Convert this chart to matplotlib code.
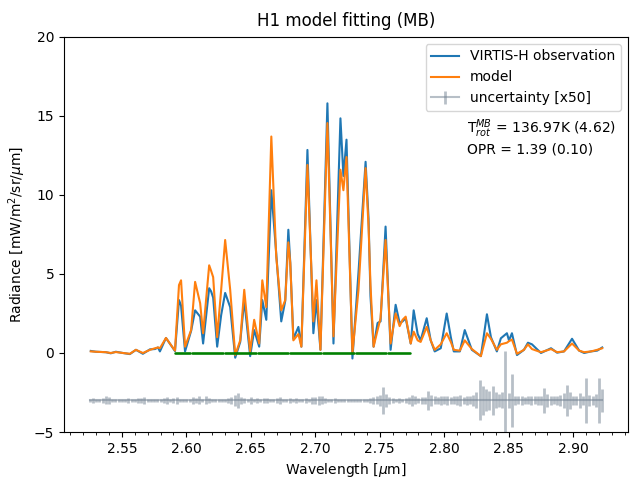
import numpy as np
import matplotlib
matplotlib.use('Agg')
import matplotlib.pyplot as plt
from matplotlib.ticker import MultipleLocator

# wavelength [um] and radiance
wl = [2.5259, 2.5298, 2.5376, 2.5414, 2.5453, 2.5508, 2.5562, 2.5609, 2.5663, 2.5718,
      2.5757, 2.5780, 2.5795, 2.5842, 2.5912, 2.5943, 2.5959, 2.5990, 2.6037, 2.6068,
      2.6107, 2.6130, 2.6177, 2.6192, 2.6208, 2.6239, 2.6270, 2.6301, 2.6340, 2.6379,
      2.6418, 2.6449, 2.6495, 2.6526, 2.6565, 2.6589, 2.6620, 2.6659, 2.6697, 2.6736,
      2.6767, 2.6791, 2.6806, 2.6830, 2.6869, 2.6892, 2.6939, 2.6985, 2.7009, 2.7040,
      2.7094, 2.7141, 2.7195, 2.7218, 2.7242, 2.7288, 2.7335, 2.7390, 2.7413, 2.7428,
      2.7452, 2.7483, 2.7506, 2.7545, 2.7584, 2.7623, 2.7654, 2.7677, 2.7701, 2.7740,
      2.7763, 2.7794, 2.7817, 2.7864, 2.7895, 2.7926, 2.7973, 2.8019, 2.8051, 2.8074,
      2.8121, 2.8159, 2.8214, 2.8284, 2.8331, 2.8362, 2.8408, 2.8439, 2.8486, 2.8502,
      2.8525, 2.8564, 2.8618, 2.8649, 2.8680, 2.8750, 2.8828, 2.8875, 2.8929, 2.8991,
      2.9046, 2.9085, 2.9139, 2.9186, 2.9225]

obs = [0.13, 0.08, 0.05, -0.02, 0.08, 0.0, -0.07, 0.2, -0.05, 0.23,
       0.25, 0.35, 0.1, 0.95, 0.12, 3.35, 3.0, 0.1, 1.4, 2.7,
       2.3, 0.6, 4.1, 3.9, 3.5, 0.4, 2.4, 3.8, 2.9, -0.3,
       0.7, 3.35, -0.2, 1.45, 0.4, 3.35, 2.1, 10.3, 6.3, 2.0,
       3.3, 7.8, 5.7, 0.9, 1.65, 0.4, 12.85, 1.25, 3.35, 0.2,
       15.8, 0.6, 14.85, 11.2, 13.5, -0.35, 5.1, 12.1, 8.5, 3.6,
       0.4, 1.9, 2.0, 8.0, 0.2, 3.05, 1.9, 2.0, 2.2, 0.6,
       2.7, 1.2, 0.8, 2.2, 0.8, 0.1, 0.3, 2.5, 1.0, 0.1,
       0.1, 1.45, 0.2, -0.2, 2.45, 1.0, 0.1, 0.93, 1.25, 0.8,
       1.25, -0.13, 0.2, 0.65, 0.55, 0.0, 0.3, 0.02, 0.1, 0.9,
       0.15, 0.0, 0.1, 0.15, 0.35]

model = [0.10, 0.08, 0.05, 0.0, 0.06, 0.0, -0.05, 0.2, 0.0, 0.2,
         0.3, 0.35, 0.3, 0.95, 0.15, 4.3, 4.6, 0.4, 1.45, 4.5,
         3.15, 1.25, 5.55, 5.2, 4.8, 1.0, 4.0, 7.15, 4.0, -0.13,
         0.8, 4.0, 0.1, 2.1, 0.6, 4.6, 2.9, 13.7, 6.1, 2.7,
         3.35, 7.0, 5.7, 0.8, 1.2, 0.4, 11.9, 2.0, 4.6, 0.2,
         14.55, 1.05, 11.6, 10.3, 12.4, 0.0, 4.0, 11.7, 8.0, 4.3,
         0.4, 1.45, 2.2, 7.15, 0.6, 2.5, 1.7, 2.1, 2.3, 0.6,
         1.35, 0.8, 0.7, 1.65, 0.8, 0.2, 0.55, 1.25, 0.7, 0.2,
         0.15, 0.8, 0.25, -0.2, 1.25, 0.9, 0.2, 0.55, 0.65, 0.75,
         0.85, -0.05, 0.2, 0.55, 0.25, 0.05, 0.25, 0.05, 0.1, 0.6,
         0.15, 0.05, 0.1, 0.2, 0.3]

# uncertainty x50, sampled every 0.0025 um from 2.525
err_start = 2.525
err_step = 0.0025
err = [0.12, 0.15, 0.12, 0.1, 0.15, 0.25, 0.2, 0.12, 0.1, 0.12,
       0.12, 0.1, 0.15, 0.12, 0.1, 0.18, 0.15, 0.2, 0.12, 0.1,
       0.1, 0.12, 0.1, 0.15, 0.2, 0.12, 0.18, 0.2, 0.12, 0.1,
       0.12, 0.1, 0.2, 0.15, 0.25, 0.12, 0.25, 0.15, 0.1, 0.12,
       0.1, 0.12, 0.1, 0.15, 0.2, 0.35, 0.46, 0.2, 0.15, 0.1,
       0.2, 0.12, 0.15, 0.1, 0.18, 0.15, 0.12, 0.1, 0.15, 0.2,
       0.12, 0.1, 0.15, 0.12, 0.15, 0.1, 0.12, 0.15, 0.1, 0.2,
       0.2, 0.3, 0.25, 0.15, 0.12, 0.1, 0.15, 0.1, 0.12, 0.1,
       0.1, 0.08, 0.1, 0.08, 0.1, 0.12, 0.1, 0.15, 0.2, 0.25,
       0.35, 0.87, 0.4, 0.2, 0.15, 0.12, 0.15, 0.12, 0.15, 0.2,
       0.35, 0.25, 0.15, 0.2, 0.2, 0.58, 0.35, 0.25, 0.2, 0.3,
       0.25, 0.3, 0.2, 0.25, 0.3, 0.35, 0.2, 0.3, 0.25, 0.35,
       0.5, 1.27, 0.9, 0.7, 0.6, 0.9, 0.5, 0.4, 0.5, 3.1,
       0.45, 1.7, 0.3, 0.25, 0.3, 0.2, 0.25, 0.3, 0.25, 0.3,
       0.3, 0.8, 0.4, 0.3, 0.25, 0.3, 0.35, 0.45, 1.0, 0.55,
       0.3, 0.3, 0.45, 0.3, 1.4, 0.35, 0.3, 0.4, 1.4, 0.75]
err_offset = -3

# fitting window
fit_lo, fit_hi = 2.5912, 2.7740

t_rot, t_rot_err = 136.97, 4.62
opr, opr_err = 1.39, 0.10

fig, ax = plt.subplots(figsize=(6.4, 4.8), dpi=100)
fig.subplots_adjust(left=0.1, right=0.981, top=0.923, bottom=0.1)

ax.plot(wl, obs, color='C0', label='VIRTIS-H observation')
ax.plot(wl, model, color='C1', label='model')

wl_err = err_start + err_step * np.arange(len(err))
ax.errorbar(wl_err, np.full(len(err), err_offset), yerr=err, color='slategray',
            alpha=0.5, lw=1.5, elinewidth=2, label='uncertainty [x50]')

wl_fit = np.arange(fit_lo, fit_hi, 0.0008)
ax.plot(wl_fit, np.zeros(len(wl_fit)), '.', color='green', markersize=1.5)

ax.set_ylim(-5, 20)
ax.xaxis.set_minor_locator(MultipleLocator(0.01))
ax.set_xlabel(r'Wavelength [$\mu$m]')
ax.set_ylabel(r'Radiance [mW/m$^2$/sr/$\mu$m]')
ax.set_title('H1 model fitting (MB)', pad=8)
ax.legend(loc='upper right')

ax.text(0.715, 0.767, r'T$_{rot}^{MB}$ = %.2fK (%.2f)' % (t_rot, t_rot_err),
        transform=ax.transAxes, va='center')
ax.text(0.715, 0.714, 'OPR = %.2f (%.2f)' % (opr, opr_err),
        transform=ax.transAxes, va='center')

fig.savefig('out.png')
